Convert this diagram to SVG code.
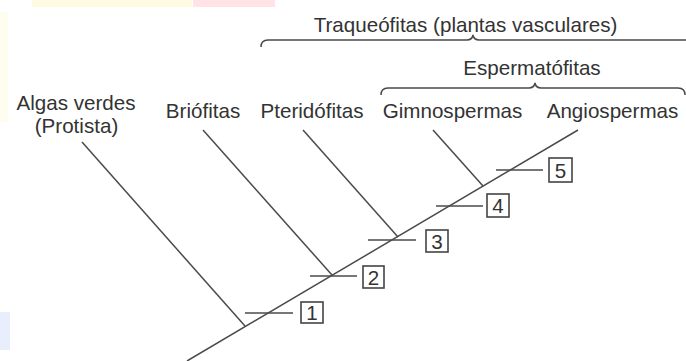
<svg xmlns="http://www.w3.org/2000/svg" width="686" height="361" viewBox="0 0 686 361">
<style>
.t{font-family:"Liberation Sans",Arial,sans-serif;font-size:20.6px;fill:#333;text-anchor:middle}
.l{stroke:#4a4a4a;stroke-width:1.5;fill:none}
.b{stroke:#444;stroke-width:1.6;fill:#fff}
</style>
<rect width="686" height="361" fill="#fff"/>
<g id="artifacts">
<rect x="32" y="0" width="160" height="7" fill="#fffbe3"/>
<rect x="193" y="0" width="82" height="7" fill="#ffe3e6"/>
<rect x="0" y="12" width="8" height="110" fill="#fffdf0"/>
<rect x="0" y="312" width="10" height="38" fill="#e9eefc"/>
</g>
<g id="connectors">
<line class="l" x1="187" y1="361" x2="578" y2="130"/>
<line class="l" x1="82" y1="142" x2="245" y2="326"/>
<line class="l" x1="203" y1="130" x2="332" y2="275"/>
<line class="l" x1="303" y1="130" x2="398" y2="237"/>
<line class="l" x1="433" y1="130" x2="483" y2="186"/>
<line class="l" x1="245" y1="313" x2="293" y2="313"/>
<line class="l" x1="310" y1="276" x2="357" y2="276"/>
<line class="l" x1="368" y1="240" x2="416" y2="240"/>
<line class="l" x1="436" y1="206" x2="483" y2="206"/>
<line class="l" x1="496" y1="170" x2="543" y2="170"/>
<path class="l" d="M261,47 Q261,40 268,40 L467,40 Q472,40 473,35 Q474,40 479,40 L686,40"/>
<path class="l" d="M381,95 Q381,88 388,88 L529,88 Q534,88 535,83 Q536,88 541,88 L678,88 Q685,88 685,95"/>
</g>
<g id="label-traqueofitas"><text class="t" x="465.5" y="32">Traqueófitas (plantas vasculares)</text></g>
<g id="label-espermatofitas"><text class="t" x="532" y="75">Espermatófitas</text></g>
<g id="algas"><text class="t" x="76" y="110">Algas verdes</text><text class="t" x="76.5" y="133">(Protista)</text></g>
<g id="briofitas"><text class="t" x="203" y="118">Briófitas</text></g>
<g id="pteridofitas"><text class="t" x="312" y="118">Pteridófitas</text></g>
<g id="gimnospermas"><text class="t" x="452.5" y="118">Gimnospermas</text></g>
<g id="angiospermas"><text class="t" x="612.5" y="118">Angiospermas</text></g>
<g id="m1"><rect class="b" x="301" y="302" width="22" height="21"/><text class="t" x="312" y="319.5">1</text></g>
<g id="m2"><rect class="b" x="363" y="266" width="21" height="22"/><text class="t" x="373.5" y="284.5">2</text></g>
<g id="m3"><rect class="b" x="426" y="230" width="22" height="22"/><text class="t" x="437" y="248.5">3</text></g>
<g id="m4"><rect class="b" x="487" y="194" width="22" height="23"/><text class="t" x="498" y="213">4</text></g>
<g id="m5"><rect class="b" x="549" y="158" width="23" height="24"/><text class="t" x="560.5" y="177.5">5</text></g>
</svg>
